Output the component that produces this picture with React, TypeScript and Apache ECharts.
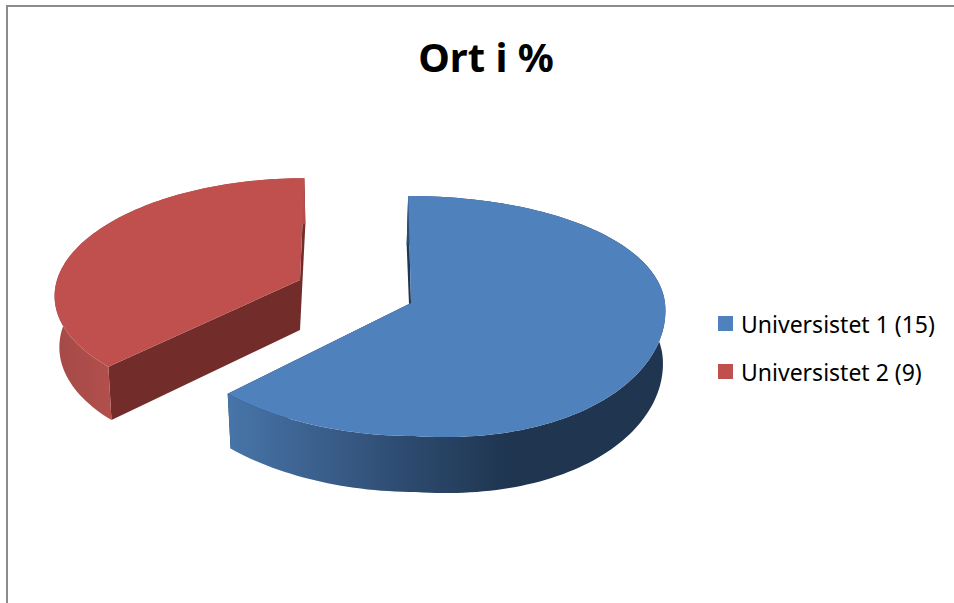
import React, { useEffect, useRef } from "react";
import * as echarts from "echarts";

const categories = ["Universistet 1 (15)", "Universistet 2 (9)"];
const seriesValues = [15, 9];
const chartTitle = "Ort i %";

// Perspective projection of each flat pie slice on to the page
const projections = [
  { cx: 411, cy: 303, r: 254, kx: 0.045, ky: 0.108, ay: 118.6, shear: 3, bulge: 18, depth: 52, ayBottom: 1.03, xBottom: 0.99, shearBottom: 1.5 },
  { cx: 300, cy: 280, r: 243, kx: 0.12, ky: 0.11, ay: 113, shear: -5, bulge: 0, depth: 50, ayBottom: 1.04, xBottom: 0.98, shearBottom: -1 },
];

const palette = [
  {
    top: "#4f81bd",
    cut: "#1f3550",
    wall: [
      [0, "#4775a9"],
      [0.4, "#385a85"],
      [0.64, "#2c4a6e"],
      [1, "#1f3550"],
    ],
    wallFrom: 228,
    wallTo: 510,
  },
  {
    top: "#c0504d",
    cut: "#722d2b",
    wall: [
      [0, "#a54a48"],
      [1, "#b24f4c"],
    ],
    wallFrom: 56,
    wallTo: 111,
  },
];

type Proj = (typeof projections)[number];

function point(p: Proj, share: number, bottom: boolean): number[] {
  const a = share * 2 * Math.PI;
  const u = Math.sin(a);
  const v = -Math.cos(a);
  const x = (p.r * u + p.shear * v) / (1 - p.kx * v);
  const y = (p.ay * v) / (1 - p.ky * v) + p.bulge * Math.max(u, 0) * Math.max(v, 0);
  if (!bottom) return [p.cx + x, p.cy + y];
  return [p.cx + x * p.xBottom + p.shearBottom * v, p.cy + p.depth + y * p.ayBottom];
}

function arc(p: Proj, from: number, to: number, bottom: boolean): number[][] {
  const steps = Math.max(2, Math.ceil((to - from) * 240));
  const pts: number[][] = [];
  for (let i = 0; i <= steps; i++) pts.push(point(p, from + ((to - from) * i) / steps, bottom));
  return pts;
}

const total = seriesValues.reduce((s, v) => s + v, 0);
const shareRanges = seriesValues.map((v, i) => {
  const before = seriesValues.slice(0, i).reduce((s, n) => s + n, 0);
  return [before / total, (before + v) / total];
});

export default function App() {
  const ref = useRef<HTMLDivElement>(null);

  useEffect(() => {
    if (!ref.current) return;
    const chart = echarts.init(ref.current, undefined, { renderer: "svg" });

    const series = categories.map((name, idx) => ({
      type: "custom",
      name,
      coordinateSystem: "none",
      itemStyle: { color: palette[idx].top },
      data: [shareRanges[idx]],
      silent: true,
      renderItem: (_params: any, api: any) => {
        const from = api.value(0);
        const to = api.value(1);
        const p = projections[idx];
        const c = palette[idx];
        const polygon = (points: number[][], fill: any) => ({
          type: "polygon",
          shape: { points },
          style: { fill },
        });
        const apexTop = [p.cx, p.cy];
        const apexBottom = [p.cx, p.cy + p.depth];
        const wallFill = new echarts.graphic.LinearGradient(
          c.wallFrom,
          0,
          c.wallTo,
          0,
          c.wall.map(([offset, color]) => ({ offset: offset as number, color: color as string })),
          true,
        );
        return {
          type: "group",
          children: [
            polygon([apexTop, point(p, from, false), point(p, from, true), apexBottom], c.cut),
            polygon([apexTop, point(p, to, false), point(p, to, true), apexBottom], c.cut),
            polygon([...arc(p, from, to, false), ...arc(p, from, to, true).reverse()], wallFill),
            polygon([apexTop, ...arc(p, from, to, false)], c.top),
          ],
        };
      },
    }));

    chart.setOption({
      animation: false,
      backgroundColor: "#ffffff",
      title: {
        text: chartTitle,
        left: 481,
        top: 31,
        textAlign: "center",
        textStyle: { fontFamily: "Noto Sans", fontWeight: "bold", fontSize: 40, color: "#000000" },
      },
      legend: {
        orient: "vertical",
        left: 718,
        top: 312,
        padding: 0,
        itemWidth: 15,
        itemHeight: 15,
        itemGap: 25,
        icon: "rect",
        selectedMode: false,
        data: categories,
        textStyle: { fontFamily: "Noto Sans", fontSize: 23, color: "#000000", padding: [0, 0, 0, 3] },
      },
      graphic: [
        { type: "rect", shape: { x: 6, y: 5, width: 2, height: 598 }, style: { fill: "#8c8c8c" }, silent: true },
        { type: "rect", shape: { x: 6, y: 5, width: 948, height: 2 }, style: { fill: "#8c8c8c" }, silent: true },
      ],
      series,
    });

    return () => chart.dispose();
  }, []);

  return <div ref={ref} style={{ position: "fixed", left: 0, top: 0, width: 954, height: 603 }} />;
}
